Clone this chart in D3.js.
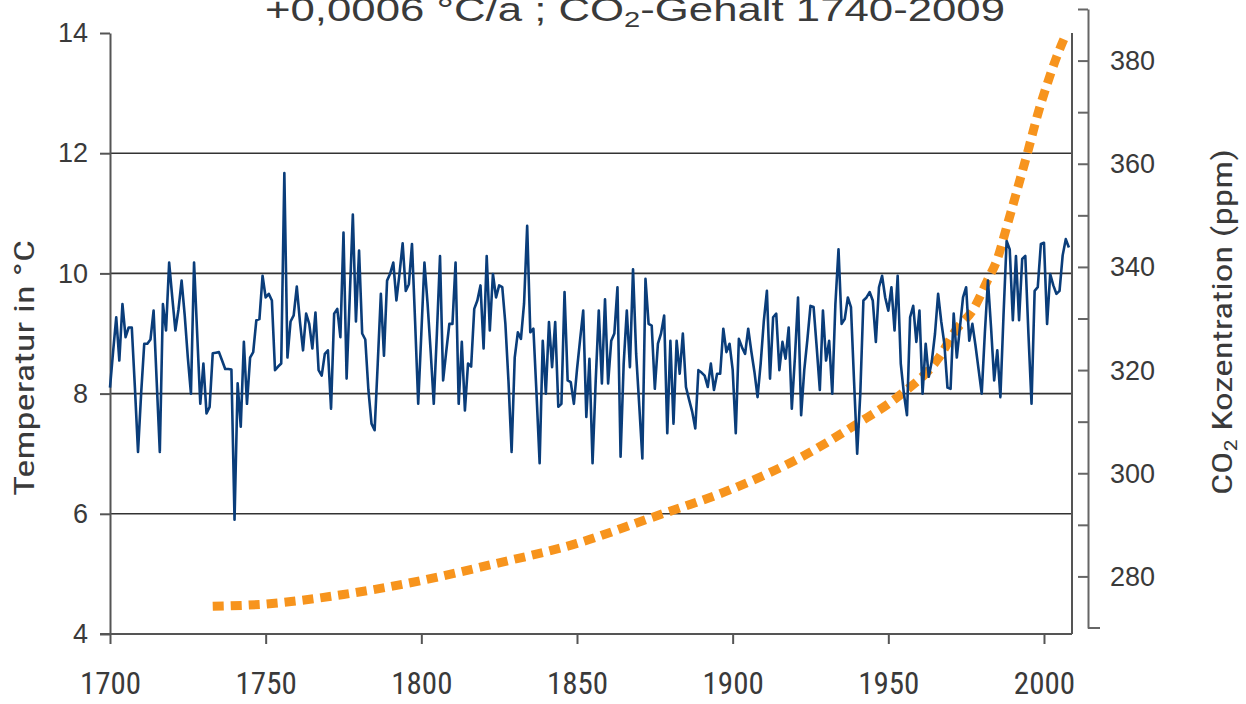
<!DOCTYPE html>
<html>
<head>
<meta charset="utf-8">
<script src="https://cdn.jsdelivr.net/npm/d3@7"></script>
<style>
  html, body { margin: 0; padding: 0; background: #fff; }
  svg { display: block; }
</style>
</head>
<body>
<div id="chart"></div>
<script>
// Jahresmitteltemperatur, Beginn 1700
var tempStartYear = 1700;
var temps = [
  8.1, 8.7, 9.27, 8.55, 9.49, 8.94, 9.1, 9.1, 8.1, 7.03,        // 1700
  8.0, 8.83, 8.83, 8.9, 9.38, 8.2, 7.03, 9.49, 9.05, 10.18,     // 1710
  9.6, 9.05, 9.4, 9.88, 9.3, 8.6, 8.0, 10.18, 9.0, 7.83,        // 1720
  8.5, 7.67, 7.78, 8.67, 8.68, 8.69, 8.55, 8.41, 8.41, 8.4,     // 1730
  5.9, 8.17, 7.45, 8.86, 7.83, 8.6, 8.69, 9.22, 9.24, 9.96,     // 1740
  9.6, 9.66, 9.55, 8.39, 8.45, 8.5, 11.67, 8.6, 9.2, 9.3,       // 1750
  9.78, 9.2, 8.72, 9.33, 9.16, 8.75, 9.35, 8.39, 8.3, 8.66,     // 1760
  8.72, 7.75, 9.33, 9.41, 8.94, 10.68, 8.25, 9.6, 10.98, 9.2,   // 1770
  10.38, 9.0, 8.9, 8.06, 7.5, 7.39, 8.5, 9.66, 8.63, 9.88,      // 1780
  10.0, 10.18, 9.55, 10.0, 10.5, 9.71, 9.82, 10.49, 9.2, 7.83,  // 1790
  9.0, 10.18, 9.5, 8.7, 7.83, 9.0, 10.29, 8.22, 8.7, 9.16,      // 1800
  9.16, 10.18, 7.83, 8.86, 7.72, 8.5, 8.45, 9.41, 9.55, 9.8,    // 1810
  8.75, 10.29, 9.05, 9.99, 9.6, 9.8, 9.77, 9.16, 8.2, 7.03,     // 1820
  8.6, 9.02, 8.91, 9.5, 10.79, 9.02, 9.08, 8.0, 6.84, 8.88,     // 1830
  8.0, 9.19, 8.44, 9.19, 7.78, 7.83, 9.69, 8.22, 8.19, 7.83,    // 1840
  8.4, 8.9, 9.38, 7.61, 8.58, 6.84, 8.2, 9.38, 8.17, 9.57,      // 1850
  8.17, 8.88, 9.0, 9.77, 6.95, 8.5, 9.38, 8.44, 10.07, 8.66,    // 1860
  7.8, 6.92, 9.91, 9.16, 9.13, 8.08, 8.83, 9.0, 9.3, 7.34,      // 1870
  8.88, 7.5, 8.88, 8.33, 9.0, 8.11, 7.9, 7.7, 7.42, 8.39,       // 1880
  8.35, 8.3, 8.11, 8.5, 8.06, 8.33, 8.33, 9.08, 8.69, 8.83,     // 1890
  8.4, 7.34, 8.91, 8.77, 8.66, 9.08, 8.7, 8.36, 7.94, 8.5,      // 1900
  9.2, 9.71, 8.25, 9.27, 9.33, 8.39, 8.86, 8.58, 9.1, 7.75,     // 1910
  8.6, 9.6, 7.64, 8.39, 8.9, 9.46, 9.44, 8.77, 8.06, 9.38,      // 1920
  8.55, 8.88, 8.0, 9.49, 10.4, 9.16, 9.24, 9.6, 9.44, 8.2,      // 1930
  7.0, 8.0, 9.55, 9.6, 9.69, 9.55, 8.86, 9.77, 9.96, 9.6,       // 1940
  9.38, 9.77, 9.05, 9.96, 8.5, 8.0, 7.64, 9.27, 9.46, 8.86,     // 1950
  9.38, 8.0, 8.83, 8.28, 8.55, 9.0, 9.66, 9.2, 8.83, 8.1,       // 1960
  8.08, 9.33, 8.6, 9.1, 9.6, 9.77, 8.88, 9.16, 8.8, 8.4,        // 1970
  8.0, 9.0, 9.88, 9.1, 8.22, 8.72, 7.94, 9.3, 10.54, 10.4,      // 1980
  9.22, 10.29, 9.22, 10.24, 10.29, 9.0, 7.83, 9.71, 9.77, 10.49,// 1990
  10.51, 9.16, 9.99, 9.8, 9.66, 9.71, 10.3, 10.57, 10.43        // 2000
];

// CO2-Gehalt (ppm)
var co2Years  = [1733, 1749, 1775, 1800, 1824, 1850, 1873, 1900, 1921, 1940, 1953, 1966, 1972, 1977, 1982, 1985, 1988, 1991, 1995, 1998, 2001, 2004, 2007];
var co2Values = [274.2, 274.6, 276.5, 279.2, 282.5, 286.4, 291.2, 297.0, 302.8, 309.6, 314.8, 322.2, 328.0, 331.5, 337.6, 341.5, 347.7, 354.1, 362.8, 369.6, 375.4, 380.6, 385.0];

var xTicks = [1700, 1750, 1800, 1850, 1900, 1950, 2000];
var tempTicks = [4, 6, 8, 10, 12, 14];
var co2Labels = [280, 300, 320, 340, 360, 380];

var width = 1246, height = 704;
var condensed = '"Liberation Sans Narrow", "Roboto Condensed", "Arial Narrow", sans-serif';
var plain = '"Liberation Sans", Arial, sans-serif';
var textColor = "#3a3a3a";

var svg = d3.select("#chart").append("svg")
    .attr("width", width)
    .attr("height", height);

var x = d3.scaleLinear().domain([1700, 2009]).range([110, 1072]);
var yT = d3.scaleLinear().domain([4, 14]).range([634, 33]);
var yC = d3.scaleLinear().domain([270, 390]).range([628, 9]);

// Title (its top is cut off by the picture edge, as in the original)
svg.append("text")
    .attr("x", 635)
    .attr("y", 21)
    .attr("text-anchor", "middle")
    .attr("font-family", plain)
    .attr("font-size", 33)
    .attr("fill", textColor)
    .attr("textLength", 740)
    .attr("lengthAdjust", "spacingAndGlyphs")
    .html('+0,0006 °C/a ; CO<tspan font-size="22" dy="6">2</tspan><tspan dy="-6">-Gehalt 1740-2009</tspan>');

// Gridlines
svg.append("g")
    .selectAll("line")
    .data([6, 8, 10, 12])
    .enter()
    .append("line")
    .attr("x1", 110)
    .attr("x2", 1072)
    .attr("y1", d => yT(d))
    .attr("y2", d => yT(d))
    .attr("stroke", "#333")
    .attr("stroke-width", 1.6);

// right frame of plot
svg.append("line")
    .attr("x1", 1072).attr("x2", 1072)
    .attr("y1", yT(14)).attr("y2", yT(4))
    .attr("stroke", "#555")
    .attr("stroke-width", 2);

// Left axis
var leftAxis = svg.append("g")
    .attr("transform", "translate(110,0)")
    .call(d3.axisLeft(yT).tickValues(tempTicks).tickSize(10).tickPadding(12).tickSizeOuter(0));
leftAxis.select(".domain").attr("stroke", "#555").attr("stroke-width", 2);
leftAxis.selectAll(".tick line").attr("stroke", "#555").attr("stroke-width", 2);
leftAxis.selectAll(".tick text")
    .attr("font-family", plain)
    .attr("font-size", 27)
    .attr("fill", textColor);

// Bottom axis
var bottomAxis = svg.append("g")
    .attr("transform", "translate(0,634)")
    .call(d3.axisBottom(x).tickValues(xTicks).tickSize(10).tickPadding(28).tickFormat(d3.format("d")).tickSizeOuter(0));
bottomAxis.select(".domain").attr("d", "M100,0H1072").attr("stroke", "#555").attr("stroke-width", 2);
bottomAxis.selectAll(".tick line").attr("stroke", "#555").attr("stroke-width", 2);
bottomAxis.selectAll(".tick text")
    .attr("font-family", condensed)
    .attr("font-size", 31)
    .attr("fill", textColor);

// Right axis (CO2), ticks pointing into the plot
var rightAxis = svg.append("g")
    .attr("transform", "translate(1088,0)")
    .call(d3.axisLeft(yC).tickValues(d3.range(280, 391, 10)).tickSize(10).tickFormat("").tickSizeOuter(0));
rightAxis.select(".domain").attr("stroke", "#666").attr("stroke-width", 2);
rightAxis.selectAll(".tick line").attr("stroke", "#666").attr("stroke-width", 2);
rightAxis.append("line")
    .attr("x1", 0).attr("x2", 12)
    .attr("y1", yC(270)).attr("y2", yC(270))
    .attr("stroke", "#666").attr("stroke-width", 2);
rightAxis.selectAll(".co2-label")
    .data(co2Labels)
    .enter()
    .append("text")
    .attr("class", "co2-label")
    .attr("x", 22)
    .attr("y", d => yC(d))
    .attr("dy", "0.35em")
    .attr("text-anchor", "start")
    .attr("font-family", plain)
    .attr("font-size", 27)
    .attr("fill", textColor)
    .text(d => d);

// Axis titles
svg.append("text")
    .attr("transform", "translate(34,368) rotate(-90)")
    .attr("text-anchor", "middle")
    .attr("font-family", condensed)
    .attr("font-size", 27)
    .attr("fill", textColor)
    .attr("textLength", 256)
    .attr("lengthAdjust", "spacingAndGlyphs")
    .text("Temperatur in °C");

svg.append("text")
    .attr("transform", "translate(1232,322) rotate(-90)")
    .attr("text-anchor", "middle")
    .attr("font-family", condensed)
    .attr("font-size", 27)
    .attr("fill", textColor)
    .attr("textLength", 346)
    .attr("lengthAdjust", "spacingAndGlyphs")
    .html('CO<tspan font-size="18" dy="5">2</tspan><tspan dy="-5"> Kozentration (ppm)</tspan>');

// CO2 curve
var co2Data = co2Years.map((yr, i) => ({ year: yr, value: co2Values[i] }));
svg.append("path")
    .datum(co2Data)
    .attr("fill", "none")
    .attr("stroke", "#f7941d")
    .attr("stroke-width", 9)
    .attr("stroke-dasharray", "11,7")
    .attr("d", d3.line()
        .curve(d3.curveMonotoneX)
        .x(d => x(d.year))
        .y(d => yC(d.value)));

// Temperature line
var tempData = temps.map((t, i) => ({ year: tempStartYear + i, value: t }));
svg.append("path")
    .datum(tempData)
    .attr("fill", "none")
    .attr("stroke", "#0a3d7a")
    .attr("stroke-width", 2.6)
    .attr("stroke-linejoin", "round")
    .attr("d", d3.line()
        .x(d => x(d.year))
        .y(d => yT(d.value)));
</script>
</body>
</html>
